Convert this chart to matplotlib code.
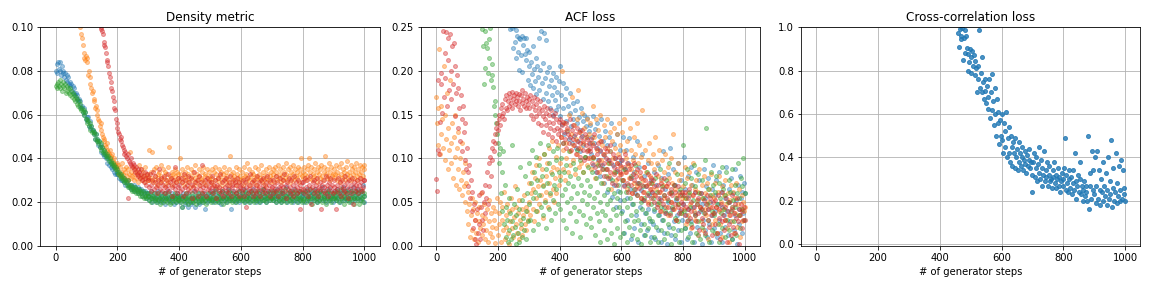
import numpy as np
import matplotlib
matplotlib.use("Agg")
import matplotlib.pyplot as plt

# values are read every 2.5 generator steps, written in thousandths
step = 2.5
cc_start = 460

titles = ["Density metric", "ACF loss", "Cross-correlation loss"]
xlabel = "# of generator steps"

# ---- Density metric (x 1e-3) ----
dens_blue = [
    80, 83, 79, 84, 81, 80, 84, 78, 82, 79, 80, 77, 79, 76, 78, 75, 77, 74, 75, 73,
    74, 71, 73, 70, 72, 69, 70, 67, 69, 66, 67, 64, 66, 63, 64, 61, 63, 60, 61, 58,
    59, 57, 59, 55, 57, 54, 55, 53, 53, 51, 52, 49, 51, 48, 49, 46, 48, 45, 46, 43,
    45, 42, 44, 41, 42, 40, 41, 38, 40, 37, 39, 36, 38, 35, 37, 34, 36, 33, 35, 33,
    33, 34, 31, 33, 30, 32, 30, 31, 29, 31, 28, 30, 29, 28, 30, 27, 28, 26, 28, 27,
    26, 28, 25, 27, 26, 25, 27, 24, 26, 25, 24, 26, 23, 25, 24, 23, 25, 22, 24, 23,
    24, 21, 23, 22, 25, 20, 23, 22, 21, 24, 22, 20, 23, 25, 21, 22, 24, 20, 23, 21,
    22, 24, 19, 22, 23, 21, 25, 22, 20, 23, 21, 24, 22, 19, 23, 22, 20, 24, 21, 23,
    22, 20, 23, 18, 22, 24, 21, 19, 23, 22, 20, 18, 24, 21, 22, 19, 23, 20, 22, 25,
    21, 18, 23, 22, 20, 24, 19, 22, 21, 23, 20, 22, 24, 17, 21, 23, 20, 22, 24, 21,
    23, 21, 25, 22, 20, 24, 22, 21, 26, 23, 20, 22, 24, 21, 19, 23, 25, 22, 21, 24,
    20, 22, 23, 26, 21, 22, 24, 17, 23, 21, 25, 22, 20, 24, 23, 21, 22, 25, 20, 23,
    22, 24, 21, 23, 26, 20, 22, 24, 23, 21, 25, 22, 20, 23, 24, 21, 26, 22, 23, 20,
    24, 22, 21, 25, 23, 20, 22, 24, 21, 26, 23, 22, 20, 24, 22, 25, 21, 23, 24, 22,
    23, 21, 25, 22, 24, 20, 23, 26, 22, 21, 24, 23, 20, 25, 22, 24, 21, 23, 27, 22,
    20, 24, 23, 21, 25, 22, 24, 20, 23, 26, 21, 22, 24, 23, 20, 25, 22, 21, 24, 23,
    24, 22, 20, 25, 23, 21, 26, 22, 24, 23, 20, 25, 22, 24, 21, 23, 26, 22, 20, 24,
    23, 21, 25, 22, 24, 27, 21, 23, 22, 25, 20, 24, 23, 22, 26, 21, 24, 22, 23, 20,
    23, 25, 22, 21, 24, 26, 22, 23, 20, 25, 24, 22, 27, 21, 23, 25, 22, 24, 21, 26,
    23, 22, 25, 20, 24, 27, 22, 23, 21, 25, 24, 22, 26, 23, 21, 25, 22, 24, 28, 23,
    20]
dens_orange = [
    200, 197, 191, 188, 183, 180, 175, 173, 167, 164, 161, 155, 152, 149, 145, 141, 139, 135, 133, 129,
    127, 124, 120, 118, 116, 113, 112, 109, 108, 105, 104, 102, 100, 97, 95, 92, 86, 88, 85, 87,
    84, 86, 78, 80, 77, 74, 72, 70, 71, 67, 66, 63, 64, 62, 60, 58, 57, 55, 56, 53,
    51, 50, 48, 49, 46, 45, 47, 44, 43, 42, 44, 41, 40, 42, 39, 38, 40, 37, 36, 38,
    35, 37, 33, 36, 34, 32, 38, 33, 35, 31, 34, 36, 32, 30, 35, 33, 43, 31, 34, 32,
    36, 30, 33, 35, 31, 34, 29, 33, 37, 31, 32, 35, 30, 34, 32, 29, 36, 31, 33, 30,
    32, 44, 30, 34, 31, 43, 29, 35, 32, 30, 36, 28, 33, 31, 34, 29, 37, 32, 30, 35,
    31, 28, 34, 33, 30, 36, 29, 45, 32, 31, 34, 28, 33, 30, 35, 32, 29, 34, 31, 33,
    30, 40, 33, 29, 35, 31, 28, 34, 32, 30, 36, 29, 33, 31, 27, 35, 32, 30, 34, 28,
    31, 37, 29, 33, 30, 32, 35, 28, 31, 34, 30, 36, 29, 32, 33, 28, 35, 31, 30, 34,
    32, 29, 35, 31, 28, 34, 36, 30, 33, 27, 31, 35, 29, 32, 34, 30, 28, 33, 36, 31,
    29, 34, 32, 30, 35, 28, 41, 33, 31, 29, 34, 32, 30, 36, 28, 33, 31, 35, 29, 32,
    30, 34, 31, 28, 36, 32, 29, 33, 38, 31, 30, 35, 28, 32, 34, 30, 33, 29, 36, 31,
    32, 28, 35, 30, 33, 31, 37, 29, 32, 34, 30, 28, 35, 31, 33, 30, 36, 32, 29, 34,
    31, 35, 33, 29, 36, 32, 34, 30, 37, 31, 33, 35, 29, 32, 36, 30, 34, 31, 38, 33,
    30, 35, 32, 36, 29, 34, 31, 33, 37, 30, 35, 32, 34, 31, 36, 29, 33, 35, 40, 32,
    34, 31, 36, 33, 30, 35, 32, 37, 40, 31, 34, 36, 30, 33, 35, 32, 38, 31, 34, 29,
    36, 33, 31, 35, 37, 32, 30, 34, 36, 41, 33, 31, 35, 32, 38, 30, 34, 36, 32, 33,
    31, 35, 33, 37, 30, 34, 32, 36, 29, 33, 38, 31, 35, 32, 34, 30, 36, 33, 39, 31,
    34, 32, 37, 30, 35, 33, 31, 36, 34, 38, 32, 30, 35, 33, 37, 31, 34, 36, 32, 35,
    37]
dens_green = [
    73, 74, 72, 75, 73, 76, 72, 74, 71, 75, 73, 72, 74, 70, 73, 71, 72, 70, 72, 69,
    71, 68, 70, 67, 69, 66, 68, 65, 67, 64, 66, 63, 65, 62, 63, 61, 62, 60, 61, 58,
    58, 56, 57, 55, 56, 53, 55, 52, 53, 51, 52, 49, 51, 48, 49, 47, 48, 45, 47, 44,
    45, 43, 44, 42, 43, 41, 42, 40, 41, 39, 40, 38, 39, 37, 38, 36, 37, 35, 36, 34,
    35, 33, 34, 32, 33, 31, 32, 30, 31, 29, 30, 29, 28, 30, 27, 28, 27, 26, 28, 25,
    27, 26, 25, 27, 24, 26, 25, 24, 26, 23, 25, 24, 23, 25, 22, 24, 23, 22, 24, 23,
    23, 21, 24, 22, 20, 23, 22, 24, 21, 22, 20, 23, 21, 24, 22, 19, 23, 21, 22, 20,
    24, 21, 23, 22, 20, 22, 24, 21, 19, 23, 22, 20, 23, 21, 24, 22, 20, 23, 21, 22,
    21, 23, 20, 22, 18, 21, 23, 20, 22, 24, 21, 19, 22, 23, 20, 22, 21, 24, 20, 22,
    23, 21, 19, 22, 24, 21, 20, 23, 22, 21, 24, 20, 22, 23, 21, 19, 22, 24, 21, 22,
    22, 20, 24, 21, 23, 22, 25, 20, 22, 21, 23, 24, 20, 22, 21, 25, 22, 19, 23, 21,
    24, 22, 20, 23, 22, 25, 21, 22, 24, 20, 23, 21, 22, 24, 20, 23, 22, 21, 25, 22,
    23, 21, 24, 22, 20, 25, 22, 23, 21, 24, 22, 20, 23, 25, 21, 22, 24, 20, 23, 22,
    21, 25, 22, 24, 20, 23, 22, 21, 24, 26, 21, 23, 22, 20, 24, 22, 23, 21, 25, 22,
    22, 24, 21, 23, 25, 20, 22, 24, 23, 21, 25, 22, 20, 24, 23, 21, 22, 26, 20, 23,
    24, 22, 21, 25, 23, 20, 22, 24, 21, 23, 25, 22, 20, 24, 22, 23, 21, 25, 22, 20,
    21, 24, 22, 25, 20, 23, 22, 24, 21, 26, 22, 23, 19, 24, 22, 21, 25, 23, 20, 22,
    24, 21, 23, 25, 22, 20, 24, 22, 23, 21, 19, 24, 22, 25, 21, 23, 22, 20, 24, 22,
    24, 22, 23, 21, 25, 22, 24, 20, 23, 22, 26, 21, 24, 19, 23, 22, 25, 21, 24, 22,
    20, 23, 25, 22, 21, 24, 22, 19, 23, 25, 21, 22, 24, 19, 23, 21, 25, 22, 20, 24,
    23]
dens_red = [
    300, 296, 291, 288, 283, 280, 275, 272, 268, 263, 260, 256, 251, 248, 244, 239, 236, 232, 227, 224,
    220, 215, 212, 208, 203, 200, 196, 191, 188, 184, 180, 175, 172, 168, 164, 160, 157, 153, 151, 148,
    145, 142, 139, 137, 134, 131, 129, 126, 124, 121, 119, 116, 114, 112, 109, 107, 105, 102, 100, 99,
    98, 97, 92, 93, 91, 88, 84, 85, 82, 79, 77, 75, 72, 71, 68, 66, 63, 62, 58, 56,
    54, 52, 51, 49, 48, 50, 46, 45, 44, 42, 43, 41, 40, 42, 22, 39, 38, 40, 37, 36,
    38, 35, 37, 34, 36, 33, 35, 32, 34, 31, 33, 35, 30, 32, 29, 34, 31, 28, 33, 30,
    31, 27, 33, 28, 25, 30, 34, 26, 29, 32, 27, 24, 30, 28, 35, 26, 29, 31, 25, 28,
    32, 27, 24, 30, 26, 33, 28, 25, 29, 31, 27, 23, 30, 28, 36, 26, 29, 24, 31, 27,
    28, 25, 31, 26, 29, 23, 33, 27, 30, 24, 28, 32, 26, 29, 25, 31, 22, 28, 27, 34,
    25, 29, 26, 30, 23, 28, 32, 26, 29, 24, 37, 27, 25, 30, 28, 23, 31, 26, 29, 27,
    25, 29, 27, 32, 24, 28, 26, 30, 22, 28, 31, 25, 27, 33, 24, 29, 26, 23, 30, 27,
    25, 31, 28, 24, 29, 26, 32, 23, 28, 27, 30, 25, 29, 24, 28, 31, 26, 23, 29, 27,
    28, 25, 30, 26, 23, 29, 18, 27, 31, 24, 28, 26, 33, 25, 29, 23, 27, 30, 25, 28,
    24, 32, 26, 29, 27, 23, 30, 25, 28, 31, 26, 24, 29, 27, 32, 25, 28, 23, 30, 26,
    27, 30, 24, 28, 26, 32, 25, 29, 23, 27, 31, 26, 28, 24, 30, 27, 33, 25, 28, 22,
    29, 26, 31, 24, 27, 30, 25, 28, 23, 32, 26, 29, 27, 24, 30, 25, 28, 17, 26, 29,
    26, 29, 24, 31, 27, 25, 30, 23, 28, 26, 32, 19, 27, 29, 24, 30, 26, 28, 25, 31,
    23, 27, 29, 26, 17, 28, 25, 30, 27, 24, 32, 26, 28, 23, 29, 27, 31, 25, 28, 24,
    27, 30, 25, 17, 28, 26, 31, 24, 29, 27, 23, 30, 26, 28, 25, 32, 24, 29, 27, 22,
    30, 26, 28, 24, 31, 19, 27, 29, 25, 28, 26, 30, 24, 28, 31, 26, 29, 25, 27, 30,
    30]

# ---- ACF loss (x 1e-3) ----
acf_blue = [
    610, 598, 590, 582, 571, 565, 553, 547, 538, 530, 519, 512, 505, 496, 488, 480, 472, 466, 458, 450,
    443, 436, 430, 423, 417, 410, 404, 398, 392, 386, 380, 375, 369, 364, 358, 353, 348, 343, 338, 333,
    328, 322, 317, 318, 309, 305, 306, 298, 295, 297, 289, 286, 288, 281, 279, 283, 276, 278, 274, 280,
    273, 276, 271, 278, 272, 275, 270, 277, 271, 274, 272, 279, 270, 275, 273, 271, 276, 270, 274, 272,
    278, 271, 275, 270, 283, 272, 276, 270, 274, 281, 271, 277, 270, 273, 279, 271, 248, 253, 249, 252,
    226, 251, 233, 247, 215, 240, 222, 238, 201, 236, 218, 240, 199, 230, 238, 219, 237, 212, 224, 190,
    222, 205, 184, 210, 196, 228, 180, 202, 188, 215, 173, 206, 193, 238, 178, 201, 245, 186, 168, 209,
    243, 192, 175, 235, 199, 165, 183, 204, 158, 190, 172, 198, 150, 181, 167, 193, 155, 176, 160, 188,
    205, 148, 172, 139, 186, 157, 128, 168, 143, 180, 131, 160, 122, 152, 175, 137, 118, 163, 145, 126,
    155, 112, 140, 166, 120, 147, 133, 108, 158, 126, 143, 115, 150, 102, 137, 124, 146, 110, 131, 118,
    138, 105, 125, 148, 92, 118, 134, 85, 112, 140, 98, 126, 80, 108, 145, 93, 120, 72, 104, 131,
    88, 115, 62, 98, 124, 78, 108, 140, 56, 92, 117, 70, 100, 45, 86, 128, 63, 95, 110, 52,
    98, 40, 125, 70, 15, 88, 110, 55, 30, 95, 123, 65, 8, 78, 48, 102, 20, 85, 60, 35,
    120, 72, 5, 90, 45, 64, 25, 105, 52, 12, 80, 38, 68, 18, 95, 42, 58, 28, 75, 10,
    62, 25, 85, 40, 8, 70, 48, 18, 92, 35, 55, 5, 78, 30, 108, 45, 15, 65, 38, 2,
    82, 50, 22, 112, 60, 12, 42, 88, 28, 70, 8, 52, 35, 95, 18, 62, 40, 5, 75, 30,
    48, 102, 20, 65, 35, 8, 80, 42, 58, 15, 90, 28, 70, 45, 5, 62, 38, 85, 22, 52,
    12, 75, 40, 60, 2, 48, 30, 88, 18, 55, 68, 10, 42, 78, 25, 50, 5, 65, 35, 92,
    20, 58, 40, 75, 10, 48, 30, 85, 15, 62, 45, 5, 70, 35, 55, 22, 90, 40, 12, 65,
    50, 28, 78, 8, 45, 60, 18, 88, 35, 52, 2, 70, 42, 25, 80, 55, 15, 62, 38, 72,
    61]
acf_orange = [
    170, 140, 158, 115, 225, 105, 160, 128, 145, 112, 205, 98, 150, 122, 175, 88, 135, 110, 190, 95,
    118, 140, 78, 125, 102, 150, 70, 112, 88, 130, 65, 100, 75, 118, 58, 85, 68, 95, 50, 72,
    40, 62, 25, 48, 10, 35, 55, 18, 42, 8, 30, 50, 15, 38, 5, 28, 45, 20, 60, 12,
    35, 25, 48, 8, 32, 18, 42, 5, 28, 52, 15, 38, 22, 10, 45, 30, 3, 40, 20, 55,
    12, 38, 25, 50, 5, 30, 45, 18, 62, 8, 35, 22, 48, 15, 40, 2, 28, 55, 20, 42,
    10, 33, 68, 25, 45, 15, 38, 8, 52, 30, 20, 42, 12, 35, 58, 25, 45, 18, 40, 30,
    50, 72, 35, 60, 85, 42, 65, 28, 78, 55, 92, 40, 68, 100, 48, 75, 58, 88, 32, 70,
    105, 52, 80, 62, 95, 45, 112, 72, 58, 85, 120, 65, 90, 50, 78, 102, 60, 88, 115, 70,
    95, 80, 125, 200, 88, 110, 140, 75, 118, 100, 132, 85, 150, 108, 92, 128, 170, 98, 115, 138,
    82, 122, 105, 145, 178, 90, 112, 130, 95, 152, 118, 85, 135, 102, 125, 145, 92, 110, 128, 100,
    140, 88, 118, 160, 102, 125, 78, 145, 110, 95, 132, 85, 120, 150, 98, 115, 72, 138, 105, 125,
    88, 112, 145, 95, 80, 130, 108, 65, 120, 100, 135, 85, 112, 75, 128, 95, 105, 140, 82, 115,
    90, 130, 75, 108, 145, 85, 100, 65, 120, 92, 78, 135, 88, 110, 60, 98, 125, 72, 105, 85,
    140, 68, 95, 115, 80, 55, 102, 155, 75, 90, 62, 110, 85, 70, 98, 50, 118, 80, 65, 95,
    72, 105, 58, 88, 125, 65, 95, 48, 80, 110, 62, 75, 40, 98, 70, 55, 85, 105, 45, 68,
    90, 35, 78, 60, 100, 50, 72, 128, 42, 65, 85, 30, 58, 95, 48, 75, 62, 38, 82, 55,
    68, 42, 90, 55, 25, 78, 60, 35, 85, 48, 70, 20, 58, 95, 40, 65, 30, 75, 52, 12,
    62, 88, 45, 28, 70, 55, 18, 80, 42, 60, 35, 72, 50, 8, 65, 45, 82, 25, 58, 38,
    55, 30, 72, 45, 15, 62, 40, 80, 25, 50, 68, 10, 42, 58, 30, 75, 48, 20, 60, 35,
    5, 52, 70, 28, 45, 62, 15, 38, 55, 72, 22, 48, 35, 65, 10, 42, 58, 28, 50, 40,
    45]
acf_green = [
    420, 414, 409, 405, 398, 394, 388, 383, 379, 372, 368, 362, 358, 352, 348, 343, 337, 333, 329, 324,
    320, 316, 311, 308, 304, 300, 297, 293, 290, 287, 284, 281, 278, 276, 273, 271, 268, 266, 264, 262,
    268, 266, 265, 267, 263, 264, 262, 265, 261, 263, 262, 264, 261, 263, 262, 260, 263, 261, 262, 260,
    248, 228, 185, 245, 203, 232, 226, 198, 236, 215, 249, 190, 208, 195, 182, 160, 150, 165, 140, 128,
    118, 105, 95, 112, 60, 85, 40, 108, 25, 70, 10, 45, 30, 5, 55, 18, 38, 8, 28, 115,
    12, 48, 22, 2, 35, 65, 15, 42, 5, 90, 25, 10, 52, 32, 18, 80, 40, 8, 60, 28,
    48, 95, 30, 72, 110, 55, 18, 85, 62, 40, 102, 75, 25, 92, 58, 118, 45, 80, 35, 68,
    105, 50, 88, 20, 72, 115, 42, 95, 60, 30, 82, 108, 52, 70, 38, 98, 65, 112, 48, 85,
    75, 42, 100, 58, 118, 30, 85, 65, 20, 92, 50, 72, 108, 38, 80, 55, 15, 95, 68, 45,
    88, 28, 110, 60, 78, 40, 98, 10, 70, 52, 85, 35, 62, 102, 25, 75, 48, 90, 58, 32,
    68, 22, 85, 45, 100, 55, 12, 78, 38, 62, 92, 28, 50, 5, 72, 40, 88, 18, 58, 35,
    80, 48, 8, 65, 95, 30, 52, 15, 75, 42, 60, 2, 85, 35, 55, 20, 70, 45, 10, 62,
    38, 75, 15, 52, 88, 28, 62, 5, 45, 70, 22, 55, 35, 80, 12, 48, 65, 28, 92, 40,
    8, 58, 30, 72, 18, 50, 2, 42, 68, 25, 55, 12, 38, 85, 20, 60, 32, 5, 48, 72,
    28, 55, 10, 42, 78, 22, 62, 35, 5, 50, 88, 18, 45, 68, 30, 8, 58, 40, 75, 15,
    52, 25, 95, 38, 2, 62, 45, 20, 70, 32, 12, 55, 82, 28, 48, 5, 65, 38, 18, 58,
    115, 40, 72, 20, 55, 88, 30, 10, 62, 45, 78, 25, 5, 52, 92, 35, 68, 15, 48, 82,
    28, 60, 8, 42, 75, 22, 55, 38, 98, 12, 135, 48, 65, 30, 5, 58, 85, 40, 18, 70,
    35, 62, 15, 80, 48, 25, 72, 5, 55, 38, 90, 20, 65, 42, 10, 58, 85, 30, 50, 75,
    18, 62, 40, 8, 88, 52, 28, 70, 45, 12, 60, 95, 35, 55, 20, 78, 42, 68, 100, 30,
    60]
acf_red = [
    76, 63, 110, 190, 105, 142, 198, 185, 152, 245, 170, 220, 192, 244, 160, 212, 238, 178, 242, 200,
    168, 228, 185, 232, 148, 205, 175, 195, 135, 180, 158, 120, 172, 145, 108, 160, 130, 98, 140, 88,
    112, 85, 68, 92, 55, 75, 40, 62, 20, 48, 8, 30, 2, 42, 15, 58, 25, 8, 45, 30,
    62, 18, 50, 38, 70, 55, 85, 48, 95, 68, 102, 80, 112, 98, 120, 108, 128, 118, 135, 140,
    132, 145, 150, 138, 158, 148, 162, 152, 145, 168, 158, 172, 155, 165, 175, 160, 170, 163, 176, 158,
    168, 172, 162, 175, 165, 170, 160, 174, 166, 155, 172, 163, 178, 168, 160, 175, 165, 158, 170, 162,
    168, 158, 172, 150, 165, 160, 145, 170, 155, 162, 148, 168, 140, 158, 152, 165, 138, 155, 148, 130,
    160, 145, 152, 138, 158, 128, 150, 142, 135, 155, 125, 148, 140, 132, 152, 120, 145, 135, 128, 142,
    132, 145, 125, 138, 118, 142, 130, 122, 140, 112, 135, 128, 118, 145, 125, 110, 132, 122, 138, 115,
    128, 105, 135, 120, 112, 130, 118, 102, 125, 132, 110, 120, 98, 128, 115, 108, 122, 100, 118, 112,
    108, 122, 95, 115, 102, 128, 90, 112, 105, 85, 118, 98, 110, 92, 120, 88, 105, 95, 80, 112,
    100, 88, 108, 78, 98, 115, 85, 95, 72, 105, 90, 82, 100, 70, 95, 88, 78, 102, 85, 92,
    82, 98, 75, 90, 68, 105, 85, 72, 95, 62, 88, 78, 70, 92, 60, 82, 75, 95, 65, 80,
    58, 88, 72, 66, 85, 55, 78, 70, 62, 90, 52, 75, 68, 58, 82, 48, 72, 65, 55, 78,
    62, 75, 50, 68, 58, 82, 45, 70, 55, 62, 40, 72, 52, 65, 48, 78, 58, 38, 68, 55,
    45, 72, 60, 35, 65, 50, 58, 42, 70, 48, 62, 30, 55, 45, 68, 38, 58, 50, 42, 62,
    48, 58, 35, 62, 45, 28, 55, 42, 65, 32, 50, 40, 22, 58, 45, 35, 62, 28, 48, 38,
    55, 18, 45, 60, 32, 42, 25, 52, 38, 15, 48, 58, 30, 42, 22, 55, 35, 45, 12, 50,
    38, 52, 25, 45, 15, 58, 32, 42, 8, 48, 28, 62, 35, 18, 45, 30, 55, 5, 40, 25,
    50, 35, 12, 42, 58, 22, 38, 48, 15, 32, 55, 28, 42, 2, 35, 48, 20, 40, 30, 45,
    30]

# ---- Cross-correlation loss (x 1e-3), blue run from step 460 on ----
cc_blue = [
    975, 910, 990, 945, 960, 995, 850, 950, 880, 985, 960, 905, 875, 800, 840, 900,
    860, 790, 890, 820, 870, 780, 845, 810, 700, 820, 760, 985, 720, 790, 860, 700, 745, 670, 760, 705,
    650, 730, 680, 625, 760, 580, 700, 785, 620, 660, 550, 720, 600, 500, 670, 560, 610, 460, 570, 500,
    600, 480, 420, 560, 520, 450, 610, 400, 490, 540, 420, 380, 500, 450, 360, 470, 420, 350, 490, 400,
    440, 340, 470, 380, 420, 360, 400, 450, 340, 390, 430, 370, 330, 410, 360, 390, 440, 350, 380, 320,
    240, 380, 420, 310, 350, 400, 290, 370, 450, 330, 300, 390, 270, 350, 320, 430, 290, 340, 310, 380,
    270, 320, 360, 290, 300, 260, 340, 310, 380, 280, 320, 260, 300, 350, 270, 310, 240, 290, 330, 270,
    300, 350, 490, 250, 320, 280, 240, 340, 300, 260, 310, 230, 280, 340, 250, 420, 290, 210, 270, 320,
    240, 300, 380, 230, 270, 200, 250, 290, 220, 270, 240, 200, 500, 160, 270, 330, 210, 430, 250, 340,
    230, 400, 190, 270, 430, 210, 340, 250, 180, 300, 240, 380, 200, 270, 220, 330, 180, 250, 400, 210,
    290, 230, 480, 170, 260, 350, 200, 240, 420, 190, 280, 220, 360, 200, 250, 390, 210, 340, 260, 230,
    200]

colors = ["#1f77b4", "#ff7f0e", "#2ca02c", "#d62728"]


def xy(vals, start=0):
    y = np.array(vals) / 1000.0
    x = start + step * np.arange(len(y))
    return x, y


fig, axes = plt.subplots(1, 3, figsize=(16, 4), dpi=72)
fig.subplots_adjust(left=0.035, right=0.99, top=0.906, bottom=0.146, wspace=0.12)

ax = axes[0]
for vals, c in zip([dens_blue, dens_orange, dens_green, dens_red], colors):
    x, y = xy(vals)
    ax.plot(x, y, 'o', color=c, ms=4, alpha=0.4)
ax.set_ylim(0, 0.1)

ax = axes[1]
for vals, c in zip([acf_blue, acf_orange, acf_green, acf_red], colors):
    x, y = xy(vals)
    ax.plot(x, y, 'o', color=c, ms=4, alpha=0.4)
ax.set_ylim(0, 0.25)

ax = axes[2]
x, y = xy(cc_blue, cc_start)
ax.plot(x, y, 'o', color=colors[0], ms=4, alpha=0.8)
ax.set_ylim(-0.008, 1.0)

for ax, t in zip(axes, titles):
    ax.set_xlim(-50, 1050)
    ax.set_title(t)
    ax.set_xlabel(xlabel)
    ax.grid(True)

fig.savefig("out.png")
